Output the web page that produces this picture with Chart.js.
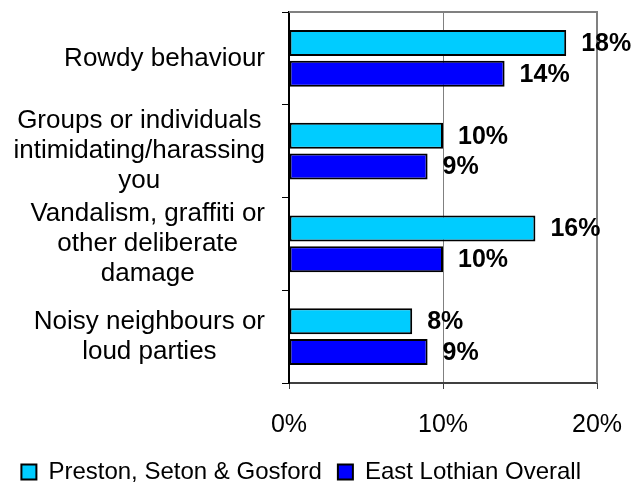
<!DOCTYPE html>
<html>
<head>
<meta charset="utf-8">
<script src="https://cdn.jsdelivr.net/npm/chart.js@4"></script>
<style>
  html, body { margin: 0; padding: 0; background: #fff; }
  #wrap { width: 635px; height: 485px; }
</style>
</head>
<body>
<div id="wrap"><canvas id="issuesChart"></canvas></div>
<script>
const categories = [
    ['Rowdy behaviour'],
    ['Groups or individuals', 'intimidating/harassing', 'you'],
    ['Vandalism, graffiti or', 'other deliberate', 'damage'],
    ['Noisy neighbours or', 'loud parties']
];
const prestonValues = [18, 10, 16, 8];
const eastLothianValues = [14, 9, 10, 9];
const xTicks = [0, 10, 20];

const FONT = '"Liberation Sans", Arial, sans-serif';

// draws the multi-line category labels: block right aligned, lines centred
const categoryLabels = {
    id: 'categoryLabels',
    afterDraw(chart) {
        const ctx = chart.ctx;
        const y = chart.scales.y;
        ctx.save();
        ctx.font = '26px ' + FONT;
        ctx.fillStyle = '#000';
        ctx.textAlign = 'center';
        ctx.textBaseline = 'middle';
        const right = y.right - 24;
        categories.forEach(function (lines, i) {
            const w = Math.max.apply(null, lines.map(l => ctx.measureText(l).width));
            const cx = right - w / 2;
            const cy = y.getPixelForValue(i);
            const lh = 30;
            lines.forEach(function (l, j) {
                ctx.fillText(l, cx, cy + (j - (lines.length - 1) / 2) * lh);
            });
        });
        ctx.restore();
    }
};

// value labels at the end of each bar
const valueLabels = {
    id: 'valueLabels',
    afterDatasetsDraw(chart) {
        const ctx = chart.ctx;
        ctx.save();
        ctx.font = 'bold 25px ' + FONT;
        ctx.fillStyle = '#000';
        ctx.textAlign = 'left';
        ctx.textBaseline = 'middle';
        chart.data.datasets.forEach(function (ds, di) {
            chart.getDatasetMeta(di).data.forEach(function (bar, i) {
                ctx.fillText(ds.data[i] + '%', bar.x + 15, bar.y + 1);
            });
        });
        ctx.restore();
    }
};

// grey frame round the plot area
const plotFrame = {
    id: 'plotFrame',
    beforeDatasetsDraw(chart) {
        const a = chart.chartArea;
        const ctx = chart.ctx;
        ctx.save();
        ctx.strokeStyle = '#808080';
        ctx.lineWidth = 2;
        ctx.beginPath();
        ctx.moveTo(a.left, a.top);
        ctx.lineTo(a.right, a.top);
        ctx.lineTo(a.right, a.bottom);
        ctx.stroke();
        ctx.restore();
    }
};

const ctx = document.getElementById('issuesChart').getContext('2d');

new Chart(ctx, {
    type: 'bar',
    data: {
        labels: categories.map(c => c.join(' ')),
        datasets: [
            {
                label: 'Preston, Seton & Gosford',
                data: prestonValues,
                backgroundColor: '#00CCFF',
                borderColor: '#000',
                borderWidth: 2,
                borderSkipped: false,
                categoryPercentage: 0.667,
                barPercentage: 0.84
            },
            {
                label: 'East Lothian Overall',
                data: eastLothianValues,
                backgroundColor: '#0000FF',
                borderColor: '#000',
                borderWidth: 2,
                borderSkipped: false,
                categoryPercentage: 0.667,
                barPercentage: 0.84
            }
        ]
    },
    options: {
        indexAxis: 'y',
        responsive: true,
        maintainAspectRatio: false,
        animation: false,
        layout: { padding: { top: 12, right: 38, left: 0, bottom: -9 } },
        scales: {
            x: {
                min: 0,
                max: 20,
                afterBuildTicks(scale) {
                    scale.ticks = xTicks.map(v => ({ value: v }));
                },
                afterFit(scale) {
                    scale.height = 61;
                    scale.paddingLeft = 0;
                    scale.paddingRight = 0;
                },
                grid: {
                    color: '#808080',
                    tickColor: '#404040',
                    tickLength: 6,
                    lineWidth: 1
                },
                border: { color: '#404040', width: 2 },
                ticks: {
                    color: '#000',
                    padding: 21,
                    font: { family: FONT, size: 25 },
                    callback: v => v + '%'
                }
            },
            y: {
                afterFit(scale) { scale.width = 289; },
                grid: {
                    offset: true,
                    drawOnChartArea: false,
                    tickColor: '#000',
                    tickLength: 7
                },
                border: { color: '#000', width: 2 },
                ticks: { display: false }
            }
        },
        plugins: {
            legend: {
                position: 'bottom',
                align: 'end',
                labels: {
                    color: '#000',
                    boxWidth: 15,
                    boxHeight: 15,
                    padding: 16,
                    font: { family: FONT, size: 24 }
                }
            },
            title: { display: false },
            tooltip: { enabled: false }
        }
    },
    plugins: [categoryLabels, valueLabels, plotFrame]
});
</script>
</body>
</html>
